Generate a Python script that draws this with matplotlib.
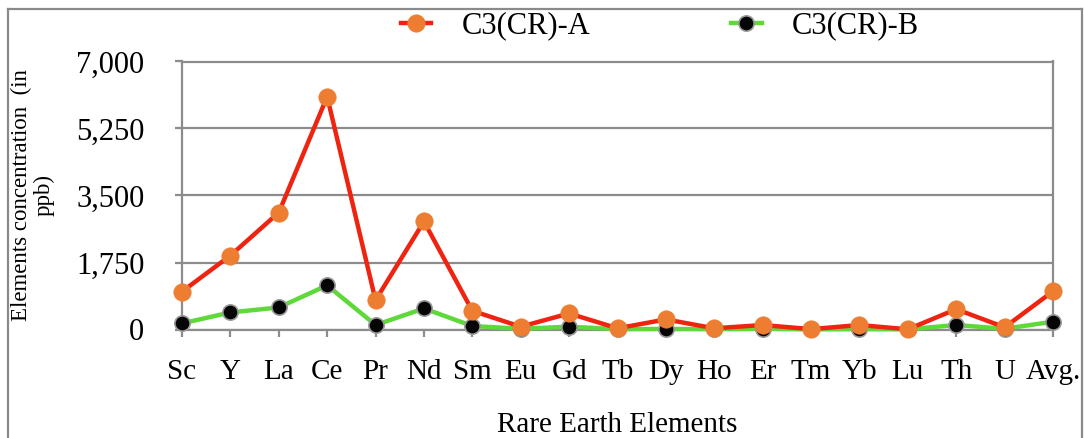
import matplotlib
matplotlib.use("Agg")
import matplotlib.pyplot as plt
from matplotlib.lines import Line2D
from matplotlib.ticker import FuncFormatter

elements = ["Sc", "Y", "La", "Ce", "Pr", "Nd", "Sm", "Eu", "Gd", "Tb",
            "Dy", "Ho", "Er", "Tm", "Yb", "Lu", "Th", "U", "Avg."]
series_a = [990, 1932, 3055, 6081, 765, 2821, 488, 73, 420, 31,
            264, 31, 117, 10, 117, 5, 531, 57, 998]
series_b = [160, 446, 576, 1154, 117, 550, 91, 20, 73, 10,
            15, 10, 20, 5, 10, 5, 117, 20, 203]
y_ticks = [0, 1750, 3500, 5250, 7000]

plt.rcParams["font.family"] = ["Liberation Serif", "DejaVu Serif"]

W, H = 1084, 438
fig = plt.figure(figsize=(W / 100, H / 100), dpi=100)
ax = fig.add_axes([182 / W, 1 - 329.5 / H, (1053 - 182) / W, (329.5 - 61.5) / H])

grey = "#8c8c8c"
x = list(range(len(elements)))

ax.plot(x, series_b, color="#5fd93a", lw=3.2, marker="o", markersize=11,
        markerfacecolor="#050505", markeredgecolor="#9a9a9a", markeredgewidth=1.2,
        label="C3(CR)-B", zorder=3, clip_on=False)
ax.plot(x, series_a, color="#ee2410", lw=3.2, marker="o", markersize=12.5,
        markerfacecolor="#ed7d31", markeredgecolor="#ed7d31", markeredgewidth=0.5,
        label="C3(CR)-A", zorder=4, clip_on=False)

ax.set_xlim(0, len(elements) - 1)
ax.set_ylim(0, 7000)
ax.set_xticks(x)
ax.set_xticklabels(elements)
ax.set_yticks(y_ticks)
ax.yaxis.set_major_formatter(FuncFormatter(lambda v, p: f"{int(v):,}"))

ax.grid(axis="y", color=grey, lw=1.6, zorder=0)
for side in ["left", "right", "top", "bottom"]:
    ax.spines[side].set_color(grey)
    ax.spines[side].set_linewidth(1.6)
ax.tick_params(axis="y", direction="out", length=5, width=1.6, color=grey,
               labelsize=22, pad=22)
ax.tick_params(axis="x", direction="out", length=5, width=1.6, color=grey,
               labelsize=21, pad=16)

ax.set_xlabel("Rare Earth Elements", fontsize=21, labelpad=20)
fig.text(33 / W, 1 - 195 / H, "Elements concentration  (in\nppb)", rotation=90,
         ha="center", va="center", fontsize=16.5, multialignment="center",
         linespacing=1.1)

handles, labels = ax.get_legend_handles_labels()
fig.legend(handles[::-1], labels[::-1], loc="center", bbox_to_anchor=(660 / W, 1 - 26 / H),
           ncol=2, frameon=False, fontsize=22, handlelength=1.0,
           handletextpad=1.0, columnspacing=4.6)

# outer frame around the chart
fc = "#8a8a8a"
fig.add_artist(Line2D([8 / W, 8 / W], [0, 1 - 9 / H], color=fc, lw=1.6))
fig.add_artist(Line2D([8 / W, 1082 / W], [1 - 9 / H, 1 - 9 / H], color=fc, lw=1.6))
fig.add_artist(Line2D([1082 / W, 1082 / W], [0, 1 - 9 / H], color=fc, lw=1.6))

fig.savefig("out.png", dpi=100, facecolor="white")
